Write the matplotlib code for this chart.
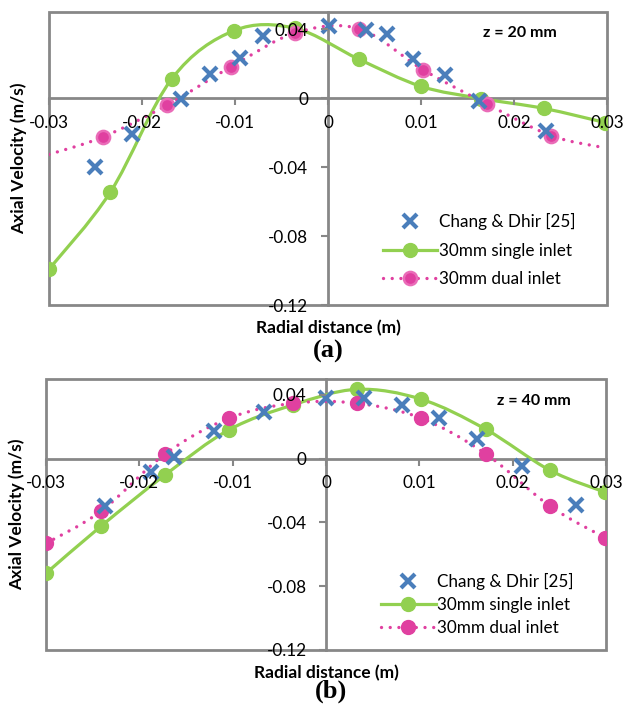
import matplotlib
matplotlib.use("Agg")
import matplotlib.pyplot as plt
from matplotlib.path import Path
from matplotlib.patches import PathPatch, Rectangle
from matplotlib.lines import Line2D

plt.rcParams['font.family'] = ['Lato', 'DejaVu Sans']

# ---------------- data ----------------
x_ticks = [-0.03, -0.02, -0.01, 0.0, 0.01, 0.02, 0.03]
x_tick_labels = ["-0.03", "-0.02", "-0.01", "0", "0.01", "0.02", "0.03"]
y_ticks = [0.04, 0.0, -0.04, -0.08, -0.12]
y_tick_labels = ["0.04", "0", "-0.04", "-0.08", "-0.12"]

# panel (a) z = 20 mm
a_exp_x = [-0.0250, -0.0211, -0.0158, -0.0127, -0.0095, -0.0070, 0.0001, 0.0041, 0.0064, 0.0092, 0.0126, 0.0163, 0.0234]
a_exp_y = [-0.0402, -0.0207, -0.0002, 0.0141, 0.0236, 0.0360, 0.0417, 0.0398, 0.0375, 0.0227, 0.0135, -0.0015, -0.0189]
a_single_x = [-0.0300, -0.0234, -0.0168, -0.0101, -0.0035, 0.0033, 0.0100, 0.0165, 0.0232, 0.0298]
a_single_y = [-0.0992, -0.0545, 0.0112, 0.0392, 0.0405, 0.0227, 0.0069, -0.0002, -0.0059, -0.0141]
a_dual_x = [-0.0300, -0.0242, -0.0173, -0.0104, -0.0035, 0.0033, 0.0102, 0.0171, 0.0240, 0.0298]
a_dual_y = [-0.0326, -0.0225, -0.0040, 0.0183, 0.0379, 0.0404, 0.0166, -0.0034, -0.0217, -0.0288]

# panel (b) z = 40 mm
b_exp_x = [-0.0237, -0.0187, -0.0163, -0.0120, -0.0066, 0.0000, 0.0041, 0.0081, 0.0121, 0.0162, 0.0210, 0.0268]
b_exp_y = [-0.0294, -0.0085, 0.0010, 0.0171, 0.0296, 0.0379, 0.0379, 0.0338, 0.0258, 0.0123, -0.0048, -0.0288]
b_single_x = [-0.0300, -0.0241, -0.0172, -0.0104, -0.0035, 0.0033, 0.0102, 0.0171, 0.0240, 0.0299]
b_single_y = [-0.0719, -0.0423, -0.0100, 0.0181, 0.0338, 0.0435, 0.0373, 0.0185, -0.0073, -0.0210]
b_dual_x = [-0.0300, -0.0241, -0.0172, -0.0104, -0.0035, 0.0033, 0.0102, 0.0171, 0.0240, 0.0299]
b_dual_y = [-0.0531, -0.0329, 0.0031, 0.0254, 0.0348, 0.0348, 0.0254, 0.0031, -0.0298, -0.0496]

labels = ["Chang & Dhir [25]", "30mm single inlet", "30mm dual inlet"]

# ---------------- style ----------------
BLUE = '#4A7EBB'
GREEN = '#92D050'
PINK = '#E040A0'
PINK_EDGE = '#EA6CB8'
GRAY = '#878787'
DOT = (0, (0.01, 2.6))
FS = 12.3


def smooth_path(xs, ys):
    """Excel-like smoothed line: cubic Bezier segments through the data points."""
    n = len(xs)
    verts = [(xs[0], ys[0])]
    codes = [Path.MOVETO]
    for i in range(n - 1):
        i0 = max(i - 1, 0)
        i3 = min(i + 2, n - 1)
        c1 = (xs[i] + (xs[i + 1] - xs[i0]) / 6.0, ys[i] + (ys[i + 1] - ys[i0]) / 6.0)
        c2 = (xs[i + 1] - (xs[i3] - xs[i]) / 6.0, ys[i + 1] - (ys[i3] - ys[i]) / 6.0)
        verts += [c1, c2, (xs[i + 1], ys[i + 1])]
        codes += [Path.CURVE4] * 3
    return Path(verts, codes)


def panel(ax, ex_x, ex_y, s_x, s_y, d_x, d_y, ztext, ztxt_pos, leg_anchor, leg_spacing,
          dual_markevery, fuzzy):
    ax.set_xlim(-0.03, 0.03)
    ax.set_ylim(-0.12, 0.05)

    # smoothed lines
    ax.add_patch(PathPatch(smooth_path(s_x, s_y), fill=False, ec=GREEN, lw=2.3, zorder=3,
                           capstyle='round', joinstyle='round'))
    ax.add_patch(PathPatch(smooth_path(d_x, d_y), fill=False, ec=PINK, lw=2.4, zorder=3,
                           linestyle=DOT, capstyle='round'))
    # markers
    ax.plot(s_x, s_y, ls='none', marker='o', ms=10, mfc=GREEN, mec=GREEN, zorder=4)
    if fuzzy:
        ax.plot(d_x, d_y, ls='none', marker='o', ms=9.5, mfc=PINK, mec=PINK_EDGE, mew=1.8,
                markevery=dual_markevery, zorder=5)
    else:
        ax.plot(d_x, d_y, ls='none', marker='o', ms=10, mfc=PINK, mec=PINK,
                markevery=dual_markevery, zorder=5)
    ax.plot(ex_x, ex_y, ls='none', marker='x', ms=9.5, mew=3.0, color=BLUE, zorder=6)

    # axes crossing at zero + outer box
    for s in ('top', 'right'):
        ax.spines[s].set_visible(False)
    ax.spines['left'].set_position(('data', 0))
    ax.spines['bottom'].set_position(('data', 0))
    for s in ('left', 'bottom'):
        ax.spines[s].set_color(GRAY)
        ax.spines[s].set_linewidth(2.0)
        ax.spines[s].set_zorder(2)
    ax.add_patch(Rectangle((0, 0), 1, 1, transform=ax.transAxes, fill=False, ec=GRAY,
                           lw=2.0, clip_on=False, zorder=1))

    ax.set_xticks(x_ticks)
    ax.set_xticklabels(x_tick_labels)
    ax.set_yticks(y_ticks)
    ax.set_yticklabels(y_tick_labels)
    ax.tick_params(axis='both', direction='out', length=5, width=1.5, color=GRAY,
                   labelsize=FS, labelcolor='black')
    ax.tick_params(axis='x', pad=7)
    ax.tick_params(axis='y', pad=9)
    ax.xaxis.set_zorder(8)
    ax.yaxis.set_zorder(8)

    ax.text(ztxt_pos[0], ztxt_pos[1], ztext, transform=ax.transAxes, ha='center',
            va='center', fontsize=11.5, fontweight='bold')

    handles = [
        Line2D([], [], ls='none', marker='x', ms=9.5, mew=3.0, color=BLUE),
        Line2D([], [], color=GREEN, lw=2.3, marker='o', ms=10, mfc=GREEN, mec=GREEN),
        Line2D([], [], color=PINK, lw=2.4, ls=DOT, dash_capstyle='round', marker='o',
               ms=10 if not fuzzy else 9.5, mfc=PINK,
               mec=PINK if not fuzzy else PINK_EDGE, mew=1.8 if fuzzy else 1.0),
    ]
    ax.legend(handles, labels, loc='upper left', bbox_to_anchor=leg_anchor, frameon=False,
              fontsize=FS, handlelength=3.2, handletextpad=0.1, labelspacing=leg_spacing,
              borderpad=0, borderaxespad=0)

    ax.set_xlabel("Radial distance (m)", fontsize=12.5, fontweight='bold')
    ax.set_ylabel("Axial Velocity (m/s)", fontsize=12.5, fontweight='bold')


fig = plt.figure(figsize=(6.25, 7.12), dpi=100)
ax1 = fig.add_axes([0.0784, 0.5716, 0.8926, 0.4115])
ax2 = fig.add_axes([0.0736, 0.0871, 0.8960, 0.3806])

panel(ax1, a_exp_x, a_exp_y, a_single_x, a_single_y, a_dual_x, a_dual_y,
      "z = 20 mm", (0.844, 0.928), (0.598, 0.315), 0.75, slice(1, -1), True)
panel(ax2, b_exp_x, b_exp_y, b_single_x, b_single_y, b_dual_x, b_dual_y,
      "z = 40 mm", (0.872, 0.919), (0.598, 0.285), 0.43, None, False)

ax1.xaxis.set_label_coords(0.5, -0.05)
ax1.yaxis.set_label_coords(-0.040, 0.5)
ax2.xaxis.set_label_coords(0.5, -0.055)
ax2.yaxis.set_label_coords(-0.037, 0.5)

fig.text(0.525, 1 - 351 / 712, "(a)", ha='center', va='center', fontsize=19,
         fontweight='bold', family=['Liberation Serif', 'DejaVu Serif'])
fig.text(0.53, 1 - 691 / 712, "(b)", ha='center', va='center', fontsize=19,
         fontweight='bold', family=['Liberation Serif', 'DejaVu Serif'])

fig.savefig("out.png", dpi=100)
